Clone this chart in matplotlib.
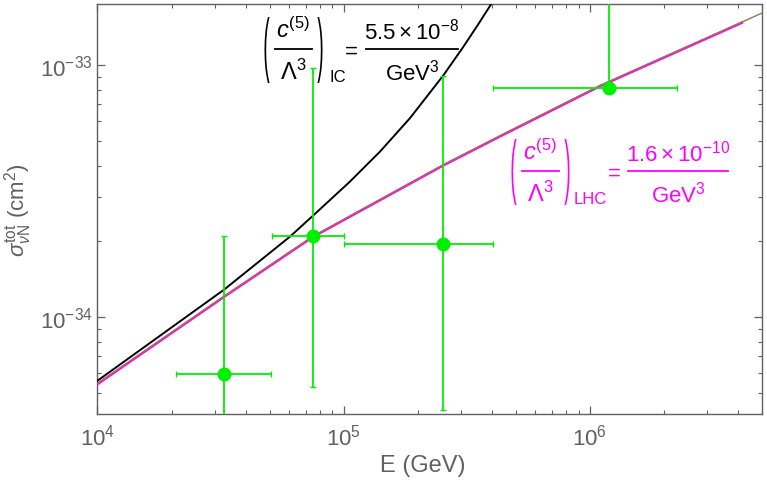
import numpy as np
import matplotlib
matplotlib.use("Agg")
import matplotlib.pyplot as plt
import matplotlib.transforms as mtransforms
from matplotlib.ticker import LogLocator, NullFormatter
from matplotlib.textpath import TextPath
from matplotlib.patches import PathPatch
from matplotlib.lines import Line2D
from matplotlib.font_manager import FontProperties

plt.rcParams['font.family'] = ['Liberation Sans', 'DejaVu Sans']
plt.rcParams['mathtext.fontset'] = 'custom'
plt.rcParams['mathtext.rm'] = 'Liberation Sans'
plt.rcParams['mathtext.it'] = 'Liberation Sans:italic'
plt.rcParams['mathtext.bf'] = 'Liberation Sans:bold'

# 曲线数据 (E in GeV, sigma in cm^2)
E_sm = [1.0e4, 3.26e4, 7.50e4, 2.53e5, 4.31e5, 1.10e6, 4.14e6, 4.99e6]
sigma_sm = [5.43e-35, 1.204e-34, 2.084e-34, 4.00e-34, 5.22e-34, 8.27e-34, 1.475e-33, 1.602e-33]

E_lhc = [1.0e4, 3.26e4, 7.50e4, 2.53e5, 4.31e5, 1.10e6, 4.14e6]
sigma_lhc = [5.43e-35, 1.204e-34, 2.084e-34, 4.00e-34, 5.22e-34, 8.27e-34, 1.475e-33]

E_ic = [1.0e4, 3.27e4, 6.05e4, 7.50e4, 1.059e5, 1.403e5, 1.858e5, 2.535e5, 3.055e5, 3.516e5, 3.98e5]
sigma_ic = [5.60e-35, 1.288e-34, 2.089e-34, 2.529e-34, 3.451e-34, 4.539e-34,
            6.166e-34, 9.099e-34, 1.180e-33, 1.452e-33, 1.754e-33]

# IceCube 数据点
E_pts = [3.26e4, 7.48e4, 2.53e5, 1.19e6]
E_lo = [2.08e4, 5.1e4, 1.0e5, 4.06e5]
E_hi = [5.06e4, 1.0e5, 4.05e5, 2.26e6]
sig_pts = [5.96e-35, 2.11e-34, 1.95e-34, 8.16e-34]
sig_lo = [3.0e-35, 5.27e-35, 4.28e-35, 8.16e-34]
sig_hi = [2.1e-34, 9.8e-34, 9.06e-34, 3.0e-33]

gray = '#606060'
green = '#00f000'
magenta = '#ff00ff'

W, H = 767, 481
fig = plt.figure(figsize=(W / 100, H / 100), dpi=100)
ax = fig.add_axes([0.127, 0.137, 0.8665, 0.8525])

ax.plot(E_ic, sigma_ic, color='black', lw=1.4, zorder=3)
ax.plot(E_lhc, sigma_lhc, color=magenta, lw=1.8, zorder=3)
shift = mtransforms.offset_copy(ax.transData, fig=fig, x=0, y=0.6, units='dots')
ax.plot(E_sm, sigma_sm, color='#a0724a', lw=1.0, zorder=4, transform=shift)

xerr = [np.array(E_pts) - np.array(E_lo), np.array(E_hi) - np.array(E_pts)]
yerr = [np.array(sig_pts) - np.array(sig_lo), np.array(sig_hi) - np.array(sig_pts)]
ax.errorbar(E_pts, sig_pts, xerr=xerr, yerr=yerr, fmt='o', color=green,
            ms=9, elinewidth=1.3, capsize=2, capthick=1.0, zorder=5)

ax.set_xscale('log')
ax.set_yscale('log')
ax.set_xlim(1e4, 5e6)
ax.set_ylim(4.13e-35, 1.75e-33)

ax.xaxis.set_minor_locator(LogLocator(base=10, subs=np.arange(2, 10)))
ax.yaxis.set_minor_locator(LogLocator(base=10, subs=np.arange(2, 10)))
ax.xaxis.set_minor_formatter(NullFormatter())
ax.yaxis.set_minor_formatter(NullFormatter())

for s in ax.spines.values():
    s.set_color(gray)
    s.set_linewidth(1.0)
ax.tick_params(which='both', direction='in', top=True, right=True, colors=gray,
               labelsize=16, labelcolor=gray)
ax.tick_params(which='major', length=6, width=0.9)
ax.tick_params(which='minor', length=3, width=0.8)
ax.tick_params(axis='x', pad=7)

ax.set_xlabel('E (GeV)', fontsize=17, color=gray)
ax.xaxis.set_label_coords(0.4895, -0.097)
ax.set_ylabel(r'$\sigma_{\nu\mathrm{N}}^{\mathrm{tot}}$ (cm$^2$)', fontsize=16, color=gray, labelpad=4)


# annotation helpers, positions in picture pixels (top-left origin)
def ftxt(x, y, s, size, color):
    fig.text(x / W, 1 - y / H, s, fontsize=size, color=color, ha='center', va='center')


def fbar(x0, x1, y, color):
    fig.add_artist(Line2D([x0 / W, x1 / W], [1 - y / H, 1 - y / H],
                          transform=fig.transFigure, color=color, lw=1.3))


def paren(ch, x, y, h, color):
    tp = TextPath((0, 0), ch, size=20, prop=FontProperties(family='Liberation Sans'))
    ext = tp.get_extents()
    sy = h / ext.height
    tr = (mtransforms.Affine2D()
          .translate(-(ext.x0 + ext.x1) / 2, -(ext.y0 + ext.y1) / 2)
          .scale(0.95, sy)
          .translate(x, H - y))
    fig.add_artist(PathPatch(tp, transform=tr, color=color, lw=0))


def coupling(x0, y, sub, num, x_eq, x_rhs, half, color):
    # x0 = left edge of the opening parenthesis, y = fraction bar height
    paren('(', x0 + 4, y + 1, 66, color)
    ftxt(x0 + 30, y - 20, r'$c^{(5)}$', 17, color)
    fbar(x0 + 12, x0 + 49, y, color)
    ftxt(x0 + 30, y + 22, r'$\Lambda^{3}$', 17, color)
    paren(')', x0 + 57, y + 1, 66, color)
    ftxt(x0 + 64 + 5.5 * len(sub), y + 28, sub, 12, color)
    ftxt(x_eq, y + 2, '=', 16, color)
    ftxt(x_rhs, y - 18, num, 16, color)
    fbar(x_rhs - half, x_rhs + half, y, color)
    ftxt(x_rhs, y + 23, r'$\mathrm{GeV}^{3}$', 16, color)


coupling(263, 50, 'IC', r'$5.5\times10^{-8}$', 351, 412, 46, 'black')
coupling(510, 172, 'LHC', r'$1.6\times10^{-10}$', 614, 678, 50, magenta)

fig.savefig('out.png', dpi=100)
